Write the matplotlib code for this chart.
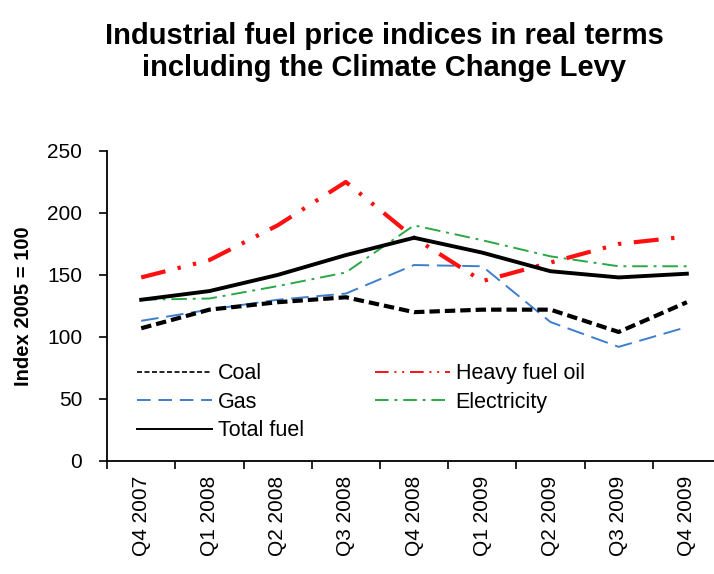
import numpy as np
import matplotlib.pyplot as plt
from matplotlib.lines import Line2D

plt.rcParams['font.family'] = ['Liberation Sans', 'DejaVu Sans']

# data
quarters = ['Q4 2007', 'Q1 2008', 'Q2 2008', 'Q3 2008', 'Q4 2008',
            'Q1 2009', 'Q2 2009', 'Q3 2009', 'Q4 2009']
coal = [107, 122, 128, 132, 120, 122, 122, 104, 128]
heavy_fuel_oil = [148, 162, 190, 225, 180, 145, 160, 175, 181]
gas = [113, 122, 130, 135, 158, 157, 112, 92, 108]
electricity = [130, 131, 141, 152, 190, 178, 165, 157, 157]
total_fuel = [130, 137, 150, 166, 180, 168, 153, 148, 151]

x = np.arange(len(quarters))

fig = plt.figure(figsize=(7.14, 5.74), dpi=100)
ax = fig.add_axes([0.150, 0.197, 0.855, 0.540])

ax.plot(x, gas, color='#3d7fcc', lw=1.4, dashes=(9, 4))
ax.plot(x, electricity, color='#2aa845', lw=1.4, dashes=(8, 3, 1.5, 3))
ax.plot(x, coal, color='black', lw=3, dashes=(2.5, 1.2))
ax.plot(x, heavy_fuel_oil, color='#ff1010', lw=3, dashes=(6, 3, 0.8, 3, 0.8, 3))
ax.plot(x, total_fuel, color='black', lw=2.8)

ax.set_xlim(-0.45, len(quarters) - 0.55)
ax.set_ylim(0, 250)
ax.set_yticks(np.arange(0, 251, 50))
ax.set_xticks(x)
ax.set_xticklabels(quarters, rotation=90, fontsize=15)
ax.set_xticks(np.arange(-0.5, len(quarters) - 0.5, 1), minor=True)
ax.tick_params(axis='x', which='major', length=0, pad=11)
ax.tick_params(axis='x', which='minor', length=6, width=1.2, direction='out')
ax.tick_params(axis='y', labelsize=15, length=6, width=1.2, direction='out', pad=12)
ax.spines['top'].set_visible(False)
ax.spines['right'].set_visible(False)
ax.spines['left'].set_linewidth(1.3)
ax.spines['bottom'].set_linewidth(1.3)

ax.set_ylabel('Index 2005 = 100', fontsize=14.5, fontweight='bold', labelpad=10)

handles = [
    Line2D([], [], color='black', lw=1.2, dashes=(3, 1.5)),
    Line2D([], [], color='#3d7fcc', lw=1.4, dashes=(7, 4)),
    Line2D([], [], color='black', lw=1.4),
    Line2D([], [], color='#ff1010', lw=1.4, dashes=(7, 3, 1, 3, 1, 3)),
    Line2D([], [], color='#2aa845', lw=1.4, dashes=(7, 3, 1.5, 3)),
]
labels = ['Coal', 'Gas', 'Total fuel', 'Heavy fuel oil', 'Electricity']
ax.legend(handles, labels, ncol=2, frameon=False, fontsize=15.5,
          handlelength=3.5, handletextpad=0.25, columnspacing=3.3,
          labelspacing=0.35, borderpad=0.4, borderaxespad=0,
          loc='lower left', bbox_to_anchor=(0.035, 0.035))

fig.text(0.538, 0.962, 'Industrial fuel price indices in real terms\nincluding the Climate Change Levy',
         ha='center', va='top', fontsize=21, fontweight='bold', linespacing=1.2)

fig.savefig('out.png', dpi=100)
